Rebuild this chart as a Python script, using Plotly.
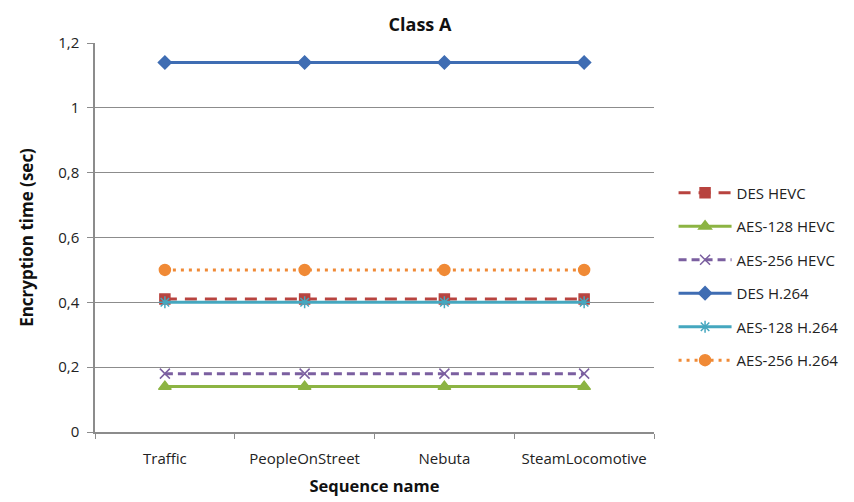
import plotly.graph_objects as go

categories = ["Traffic", "PeopleOnStreet", "Nebuta", "SteamLocomotive"]
series_names = ["DES HEVC", "AES-128 HEVC", "AES-256 HEVC", "DES H.264", "AES-128 H.264", "AES-256 H.264"]
des_hevc = [0.41, 0.41, 0.41, 0.41]
aes128_hevc = [0.14, 0.14, 0.14, 0.14]
aes256_hevc = [0.18, 0.18, 0.18, 0.18]
des_h264 = [1.14, 1.14, 1.14, 1.14]
aes128_h264 = [0.40, 0.40, 0.40, 0.40]
aes256_h264 = [0.50, 0.50, 0.50, 0.50]
y_ticks = [0, 0.2, 0.4, 0.6, 0.8, 1, 1.2]

values = [des_hevc, aes128_hevc, aes256_hevc, des_h264, aes128_h264, aes256_h264]
styles = [
    dict(color="#B8433F", dash="12px,8px", symbol="square", size=10),
    dict(color="#8CB443", dash="solid", symbol="triangle-up", size=11),
    dict(color="#7B5FA0", dash="8px,5px", symbol="x-thin-open", size=10),
    dict(color="#3F6DB3", dash="solid", symbol="diamond", size=10),
    dict(color="#45A7BF", dash="solid", symbol="asterisk-open", size=10),
    dict(color="#F08A36", dash="3px,5px", symbol="circle", size=11),
]

fig = go.Figure()
for i, (name, vals, st) in enumerate(zip(series_names, values, styles)):
    fig.add_trace(go.Scatter(
        x=categories, y=vals, name=name, mode="lines+markers",
        legendgroup=f"g{i}",
        line=dict(color=st["color"], width=3, dash=st["dash"]),
        marker=dict(symbol=st["symbol"], size=st["size"], color=st["color"],
                    line=dict(color=st["color"], width=1.5)),
    ))

font_family = "Open Sans, Liberation Sans, sans-serif"
fig.update_layout(
    width=846, height=494,
    margin=dict(l=87, r=200, t=35, b=70, autoexpand=False),
    paper_bgcolor="white", plot_bgcolor="white",
    separators=",.",
    font=dict(family=font_family, size=12, color="#222"),
    title=dict(text="<b>Class A</b>", x=0.487, xanchor="center", y=0.966, yanchor="middle",
               font=dict(size=18, color="#111")),
    showlegend=True,
    legend=dict(x=1.035, y=0.657, xanchor="left", yanchor="top", tracegroupgap=11,
                itemwidth=53,
                font=dict(size=15, color="#222"), bgcolor="rgba(0,0,0,0)"),
    xaxis=dict(
        type="category", tickson="boundaries", ticks="outside", ticklen=5,
        tickcolor="#8c8c8c", showline=True, linecolor="#8c8c8c", linewidth=1.5,
        showgrid=False, range=[-0.5, 3.5], automargin=False,
        ticklabelstandoff=12,
        tickfont=dict(size=15, color="#222"),
        title=dict(text="<b>Sequence name</b>", font=dict(size=16.5, color="#111"), standoff=14),
    ),
    yaxis=dict(
        range=[0, 1.2], tickvals=y_ticks, ticks="outside", ticklen=6,
        tickcolor="#8c8c8c", showline=True, linecolor="#8c8c8c", linewidth=1.5,
        showgrid=True, gridcolor="#8c8c8c", gridwidth=1.2, zeroline=False,
        automargin=False, ticklabelstandoff=5,
        tickfont=dict(size=15, color="#222"),
        title=dict(text="<b>Encryption time (sec)</b>", font=dict(size=17, color="#111"), standoff=20),
    ),
)

fig.write_html("out.html")
